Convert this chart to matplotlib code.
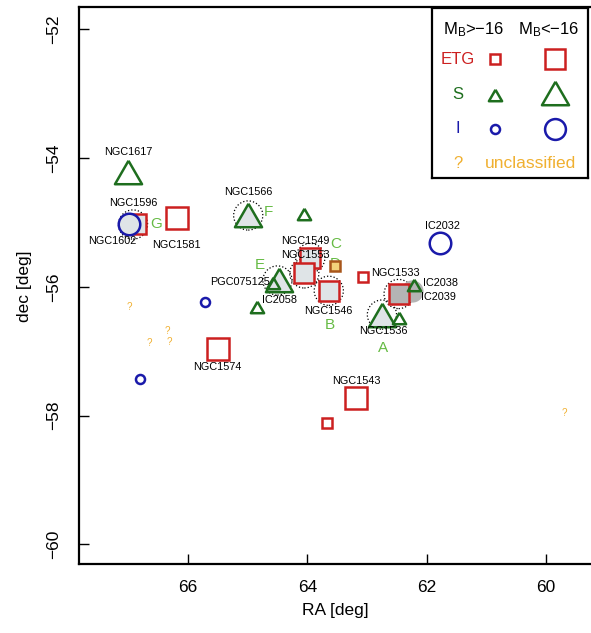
import matplotlib
matplotlib.use("Agg")
import matplotlib.pyplot as plt
import numpy as np

plt.rcParams['font.family'] = ['Liberation Sans', 'DejaVu Sans']

# ---------------- data ----------------
# ETG bright (M_B < -16)
etg_big_ra = [66.18, 65.50, 63.18]
etg_big_dec = [-54.93, -56.96, -57.73]
etg_big_fill_ra = [66.87, 63.95, 64.05, 63.64]
etg_big_fill_dec = [-55.02, -55.55, -55.79, -56.06]
etg_big_dark_ra = [62.47]
etg_big_dark_dec = [-56.11]
# ETG faint
etg_small_ra = [63.07, 63.67]
etg_small_dec = [-55.85, -58.12]
etg_d_ra = [63.53]
etg_d_dec = [-55.68]
# Spirals
sp_big_ra = [67.00]
sp_big_dec = [-54.22]
sp_big_fill_ra = [64.99, 64.48, 62.75]
sp_big_fill_dec = [-54.89, -55.89, -56.43]
sp_small_ra = [64.06, 64.58, 64.84, 62.22, 62.47]
sp_small_dec = [-54.86, -55.94, -56.31, -55.97, -56.48]
# Irregulars
irr_big_ra = [61.77]
irr_big_dec = [-55.32]
irr_big_fill_ra = [66.98]
irr_big_fill_dec = [-55.03]
irr_small_ra = [65.72, 66.81]
irr_small_dec = [-56.23, -57.43]
# unclassified
unc_ra = [66.98, 66.35, 66.31, 66.65, 59.69]
unc_dec = [-56.31, -56.69, -56.85, -56.87, -57.96]
# gray circle (IC2039)
gray_ra = [62.24]
gray_dec = [-56.06]
# dotted circles (group members)
dot_ra = [66.92, 64.99, 64.50, 63.95, 64.05, 63.64, 62.47, 62.75]
dot_dec = [-55.03, -54.89, -55.90, -55.55, -55.79, -56.06, -56.11, -56.43]

# galaxy name labels
names = ['NGC1617', 'NGC1596', 'NGC1602', 'NGC1581', 'NGC1566', 'NGC1549',
         'NGC1553', 'PGC075125', 'IC2058', 'NGC1546', 'NGC1533', 'IC2038',
         'IC2039', 'NGC1536', 'IC2032', 'NGC1574', 'NGC1543']
name_ra = [67.00, 66.91, 67.27, 66.20, 64.99, 64.03, 64.03, 65.12, 64.47,
           63.64, 62.52, 61.77, 61.80, 62.72, 61.74, 65.50, 63.18]
name_dec = [-53.91, -54.69, -55.29, -55.35, -54.53, -55.28, -55.51, -55.92,
            -56.20, -56.37, -55.79, -55.94, -56.15, -56.69, -55.05, -57.25,
            -57.46]
# group letters
letters = ['A', 'B', 'C', 'D', 'E', 'F', 'G']
letter_ra = [62.73, 63.63, 63.53, 63.53, 64.79, 64.66, 66.53]
letter_dec = [-56.95, -56.59, -55.33, -55.64, -55.66, -54.84, -55.03]

xticks = [66, 64, 62, 60]
yticks = [-52, -54, -56, -58, -60]

# ---------------- style ----------------
RED = '#cc2020'
GREEN = '#1e6e1e'
BLUE = '#1a1aaa'
ORANGE = '#f0b030'
LGREEN = '#66bb44'
LGRAY = '#dfe4e7'
DGRAY = '#b4b4b4'
TRI = [(0, 0.433), (-0.5, -0.433), (0.5, -0.433), (0, 0.433)]
MINUS = '\u2212'

fig = plt.figure(figsize=(5.91, 6.33), dpi=100)
ax = fig.add_axes([0.1332, 0.1085, 0.8700, 0.8800])
ax.set_xlim(67.83, 59.215)
ax.set_ylim(-60.31, -51.655)

# dotted circles
ax.scatter(dot_ra, dot_dec, s=21**2, facecolors='none', edgecolors='black',
           linewidths=0.9, linestyles=':', zorder=2)
# gray circle
ax.plot(gray_ra, gray_dec, 'o', ms=15, mfc=DGRAY, mec=DGRAY, zorder=2)

# letters (behind markers)
for t, x, y in zip(letters, letter_ra, letter_dec):
    ax.text(x, y, t, color=LGREEN, fontsize=11, ha='center', va='center', zorder=2)

lw_big = 1.8
lw_small = 1.8
ax.plot(etg_big_ra, etg_big_dec, 's', ms=15.5, mfc='none', mec=RED, mew=lw_big, zorder=3)
ax.plot(etg_big_fill_ra, etg_big_fill_dec, 's', ms=15, mfc=LGRAY, mec=RED, mew=lw_big, zorder=3)
ax.plot(etg_big_dark_ra, etg_big_dark_dec, 's', ms=15, mfc=DGRAY, mec=RED, mew=lw_big, zorder=3)
ax.plot(etg_small_ra, etg_small_dec, 's', ms=7, mfc='none', mec=RED, mew=lw_small, zorder=3)
ax.plot(etg_d_ra, etg_d_dec, 's', ms=7, mfc='#f2d27a', mec='#a8561a', mew=lw_small, zorder=3)

ax.plot(sp_big_ra, sp_big_dec, marker=TRI, ls='none', ms=19.5, mfc='none', mec=GREEN, mew=lw_big, zorder=3)
ax.plot(sp_big_fill_ra, sp_big_fill_dec, marker=TRI, ls='none', ms=19.5, mfc=LGRAY, mec=GREEN, mew=lw_big, zorder=3)
ax.plot(sp_small_ra, sp_small_dec, marker=TRI, ls='none', ms=9.5, mfc='none', mec=GREEN, mew=lw_small, zorder=4)

ax.plot(irr_big_ra, irr_big_dec, 'o', ms=15.5, mfc='none', mec=BLUE, mew=lw_big, zorder=3)
ax.plot(irr_big_fill_ra, irr_big_fill_dec, 'o', ms=15.5, mfc=LGRAY, mec=BLUE, mew=lw_big, zorder=4)
ax.plot(irr_small_ra, irr_small_dec, 'o', ms=6.5, mfc='none', mec=BLUE, mew=lw_small, zorder=3)

for x, y in zip(unc_ra, unc_dec):
    ax.text(x, y, '?', color=ORANGE, fontsize=7, ha='center', va='center', zorder=3)

for t, x, y in zip(names, name_ra, name_dec):
    ax.text(x, y, t, color='black', fontsize=7.8, ha='center', va='center', zorder=5)

ax.set_xticks(xticks)
ax.set_yticks(yticks)
ax.set_xticklabels([str(v) for v in xticks])
ax.set_yticklabels([MINUS + str(-v) for v in yticks])
ax.tick_params(axis='both', direction='in', length=7, width=1, labelsize=12.5)
ax.tick_params(axis='x', pad=11)
ax.tick_params(axis='y', pad=13, labelrotation=90)
for lab in ax.get_yticklabels():
    lab.set_va('center')
for s in ax.spines.values():
    s.set_linewidth(1.6)
ax.set_xlabel('RA [deg]', fontsize=12.5, labelpad=6)
ax.set_ylabel('dec [deg]', fontsize=12.5, labelpad=10)

# ---------------- legend box ----------------
lax = fig.add_axes([431.7 / 591, 1 - 178 / 633, (588.3 - 431.7) / 591, (178 - 8.3) / 633])
lax.set_xlim(0, 1)
lax.set_ylim(0, 1)
lax.set_xticks([])
lax.set_yticks([])
for s in lax.spines.values():
    s.set_linewidth(1.6)
lax.text(0.266, 0.876, r'$\mathregular{M_B}$>' + MINUS + '16', fontsize=12, ha='center', va='center')
lax.text(0.745, 0.876, r'$\mathregular{M_B}$<' + MINUS + '16', fontsize=12, ha='center', va='center')
lax.text(0.165, 0.70, 'ETG', color=RED, fontsize=12, ha='center', va='center')
lax.plot([0.404], [0.70], 's', ms=7, mfc='none', mec=RED, mew=lw_small)
lax.plot([0.787], [0.70], 's', ms=15, mfc='none', mec=RED, mew=lw_big)
lax.text(0.165, 0.49, 'S', color=GREEN, fontsize=12, ha='center', va='center')
lax.plot([0.404], [0.49], marker=TRI, ms=9.5, mfc='none', mec=GREEN, mew=lw_small)
lax.plot([0.787], [0.50], marker=TRI, ms=19.5, mfc='none', mec=GREEN, mew=lw_big)
lax.text(0.165, 0.29, 'I', color=BLUE, fontsize=12, ha='center', va='center')
lax.plot([0.404], [0.29], 'o', ms=6.5, mfc='none', mec=BLUE, mew=lw_small)
lax.plot([0.787], [0.29], 'o', ms=15, mfc='none', mec=BLUE, mew=lw_big)
lax.text(0.165, 0.085, '?', color=ORANGE, fontsize=12, ha='center', va='center')
lax.text(0.628, 0.085, 'unclassified', color=ORANGE, fontsize=12.5, ha='center', va='center')

fig.savefig('out.png', dpi=100)
